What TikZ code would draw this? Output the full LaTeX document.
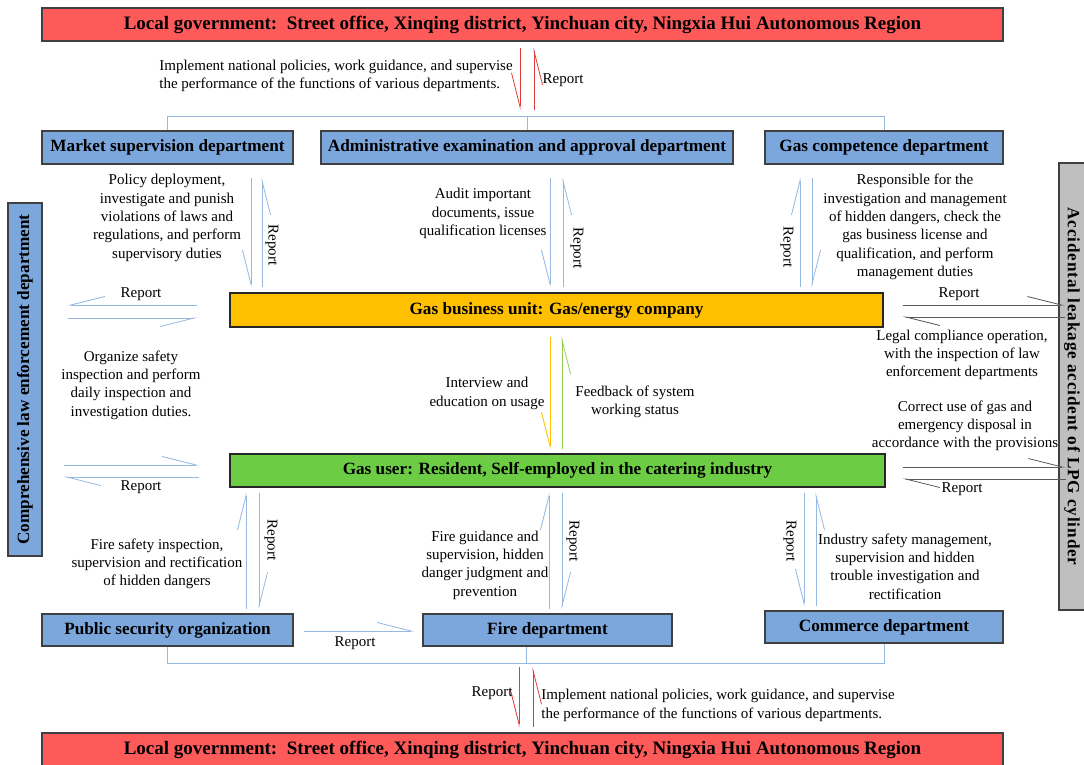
\documentclass[tikz,border=0pt]{standalone}
\usepackage{fontspec}
\setmainfont{Liberation Serif}
\usetikzlibrary{arrows.meta,calc}
\definecolor{govred}{RGB}{255,90,90}
\definecolor{deptblue}{RGB}{124,167,220}
\definecolor{bizorange}{RGB}{255,192,0}
\definecolor{usergreen}{RGB}{108,204,68}
\definecolor{accgray}{RGB}{191,191,191}
\definecolor{linkblue}{RGB}{150,185,225}
\definecolor{linkred}{RGB}{225,60,60}
\definecolor{linkgreen}{RGB}{146,208,80}
\definecolor{linkgray}{RGB}{90,90,90}
\newcommand{\txtsize}{\fontsize{15}{18.3}\selectfont}
\newcommand{\boxsize}{\fontsize{17.2}{20}\selectfont\bfseries}
\newcommand{\govsize}{\fontsize{19}{22}\selectfont\bfseries}

\begin{document}
\begin{tikzpicture}[x=1pt, y=-1pt, line width=0.8pt]
\tikzstyle{gov} = [draw=black!75, line width=1.2pt, fill=govred, minimum width=961pt, minimum height=33pt, inner sep=0pt, font=\govsize]
\tikzstyle{dept} = [draw=black!75, line width=1.2pt, fill=deptblue, minimum height=33pt, inner sep=0pt, font=\boxsize]
\tikzstyle{unit} = [draw=black!85, line width=1.2pt, minimum height=34pt, inner sep=0pt, font=\boxsize]
\tikzstyle{side} = [draw=black!75, line width=1.2pt, inner sep=0pt, font=\boxsize]
\tikzstyle{note} = [align=center, inner sep=0pt, font=\txtsize]
\tikzstyle{rep} = [inner sep=0pt, font=\txtsize]
\tikzstyle{hl} = [-{Straight Barb[left, length=34pt, width=17pt]}]
\tikzstyle{hr} = [-{Straight Barb[right, length=34pt, width=17pt]}]
\useasboundingbox (0,0) rectangle (1084,765);

% government boxes
\node[gov] (gtop) at (522.5,24.5) {Local government:\enspace Street office, Xinqing district, Yinchuan city, Ningxia Hui Autonomous Region};
\node[gov, minimum height=34pt] (gbot) at (522.5,750) {Local government:\enspace Street office, Xinqing district, Yinchuan city, Ningxia Hui Autonomous Region};

% departments
\node[dept, minimum width=251pt] (mkt) at (167.5,147.5) {Market supervision department};
\node[dept, minimum width=412pt] (adm) at (527,147.5) {Administrative examination and approval department};
\node[dept, minimum width=238pt] (gcd) at (884,147.5) {Gas competence department};
\node[dept, minimum width=251pt, minimum height=32pt] (ps) at (167.5,630) {Public security organization};
\node[dept, minimum width=249pt, minimum height=32pt] (fire) at (547.5,630) {Fire department};
\node[dept, minimum width=238pt, minimum height=32pt] (com) at (884,627) {Commerce department};

% business and user
\node[unit, fill=bizorange, minimum width=653pt] (bu) at (556.5,310) {Gas business unit: Gas/energy company};
\node[unit, fill=usergreen, minimum width=655pt, minimum height=33pt] (gu) at (557.5,470.5) {Gas user: Resident, Self-employed in the catering industry};

% side boxes
\node[side, fill=deptblue, rotate=90, minimum width=353pt, minimum height=34pt] (law) at (25,379.5) {Comprehensive law enforcement department};
\node[side, fill=accgray, rotate=-90, minimum width=447pt, minimum height=26pt] (acc) at (1072,386.5) {\addfontfeatures{LetterSpace=5}Accidental leakage accident of LPG cylinder};

% brackets
\coordinate (bt) at (527,116);
\coordinate (bb) at (526,663);
\draw[linkblue] (mkt.north) -- (mkt.north |- bt) -- (gcd.north |- bt) -- (gcd.north);
\draw[linkblue] (adm.north) -- (bt);
\draw[linkblue] (ps.south) -- (ps.south |- bb) -- (com.south |- bb) -- (com.south);
\draw[linkblue] (bb) -- (bb |- fire.south);

% government links
\draw[linkred, hr] ($(bt |- gtop.south)+(-7,6)$) -- ($(bt)+(-7,-6)$);
\draw[linkred, hr] ($(bt)+(7,-6)$) -- ($(bt |- gtop.south)+(7,6)$);
\draw[linkred, hr] ($(bb)+(-7,4)$) -- ($(bb |- gbot.north)+(-7,-5)$);
\draw[linkred, hr] ($(bb |- gbot.north)+(7,-5)$) -- ($(bb)+(7,4)$);
\node[note, anchor=west, align=left] (imptop) at (159,76) {Implement national policies, work guidance, and supervise\\the performance of the functions of various departments.};
\node[rep] (reptop) at (563,80) {Report};
\node[rep] (repbot) at (492,693) {Report};
\node[note, anchor=west, align=left] (impbot) at (541,705.5) {Implement national policies, work guidance, and supervise\\the performance of the functions of various departments.};

% departments to business unit
\foreach \d/\dn/\up/\s in {mkt/83.5/94.5/hr, adm/23/36/hr, gcd/-72/-84/hl} {
  \draw[linkblue, \s] ($(\d.south)+(\dn,13)$) -- ($(\d.south |- bu.north)+(\dn,-5)$);
  \draw[linkblue, \s] ($(\d.south |- bu.north)+(\up,-5)$) -- ($(\d.south)+(\up,13)$);
}
\node[note] (mkttxt) at (167,218) {Policy deployment,\\investigate and punish\\violations of laws and\\regulations, and perform\\supervisory duties};
\node[rep, rotate=-90] (mktrep) at (272,245) {Report};
\node[note] (admtxt) at (483,213.5) {Audit important\\documents, issue\\qualification licenses};
\node[rep, rotate=-90] (admrep) at (577,248) {Report};
\node[note] (gcdtxt) at (915,227) {Responsible for the\\investigation and management\\of hidden dangers, check the\\gas business license and\\qualification, and perform\\management duties};
\node[rep, rotate=-90] (gcdrep) at (787,247) {Report};

% business unit to user
\draw[bizorange, hr] ($(bu.south)+(-6.5,9)$) -- ($(bu.south |- gu.north)+(-6.5,-4)$);
\draw[linkgreen, hr] ($(bu.south |- gu.north)+(5.5,-4)$) -- ($(bu.south)+(5.5,9)$);
\node[note] (intv) at (487,393.5) {Interview and\\education on usage};
\node[note] (fdbk) at (635,401.5) {Feedback of system\\working status};

% law enforcement links
\draw[linkblue, hr] ($(bu.west)+(-32,-5)$) -- ($(law.south |- bu.west)+(25,-5)$);
\draw[linkblue, hr] ($(law.south |- bu.west)+(25,8)$) -- ($(bu.west)+(-32,8)$);
\draw[linkblue, hl] ($(law.south |- gu.west)+(21,-5.5)$) -- ($(gu.west)+(-30,-5.5)$);
\draw[linkblue, hl] ($(gu.west)+(-30,6.5)$) -- ($(law.south |- gu.west)+(21,6.5)$);
\node[rep] (lawrep1) at (141,294) {Report};
\node[rep] (lawrep2) at (141,487) {Report};
\node[note] (lawtxt) at (131,385) {Organize safety\\inspection and perform\\daily inspection and\\investigation duties.};

% accident links
\draw[linkgray, hl] ($(bu.east)+(19,-5)$) -- ($(acc.north |- bu.east)+(-21,-5)$);
\draw[linkgray, hl] ($(acc.north |- bu.east)+(-21,7)$) -- ($(bu.east)+(19,7)$);
\draw[linkgray, hl] ($(gu.east)+(17,-3.5)$) -- ($(acc.north |- gu.east)+(-20,-3.5)$);
\draw[linkgray, hl] ($(acc.north |- gu.east)+(-20,8.5)$) -- ($(gu.east)+(17,8.5)$);
\node[rep] (accrep1) at (959,294) {Report};
\node[rep] (accrep2) at (962,489) {Report};
\node[note] (acctxt1) at (962,355) {Legal compliance operation,\\with the inspection of law\\enforcement departments};
\node[note] (acctxt2) at (965,426) {Correct use of gas and\\emergency disposal in\\accordance with the provisions};

% user to lower departments
\foreach \d/\up/\dn/\s in {ps/78.5/91.5/hl, fire/1.5/14.5/hl, com/-68/-80/hr} {
  \draw[linkblue, \s] ($(\d.north)+(\up,-4)$) -- ($(\d.north |- gu.south)+(\up,5)$);
  \draw[linkblue, \s] ($(\d.north |- gu.south)+(\dn,5)$) -- ($(\d.north)+(\dn,-4)$);
}
\node[note] (pstxt) at (157,564) {Fire safety inspection,\\supervision and rectification\\of hidden dangers};
\node[rep, rotate=-90] (psrep) at (271,540) {Report};
\node[note] (firetxt) at (485,565) {Fire guidance and\\supervision, hidden\\danger judgment and\\prevention};
\node[rep, rotate=-90] (firerep) at (573,541) {Report};
\node[note] (comtxt) at (905,566.5) {Industry safety management,\\supervision and hidden\\trouble investigation and\\rectification};
\node[rep, rotate=-90] (comrep) at (790,541) {Report};

% public security to fire
\draw[linkblue, hl] ($(ps.east)+(10,1)$) -- ($(fire.west)+(-8,1)$);
\node[rep] (psfire) at (355,643) {Report};
\end{tikzpicture}
\end{document}
